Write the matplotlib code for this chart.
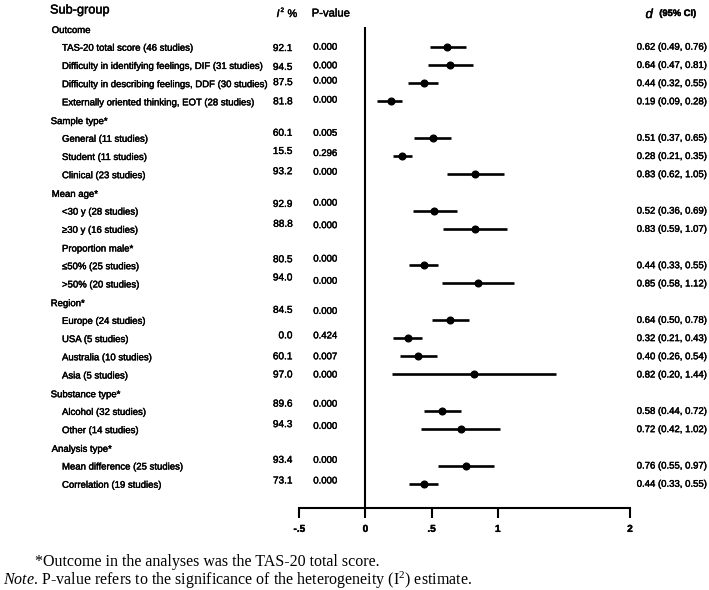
import matplotlib
matplotlib.use("Agg")
import matplotlib.pyplot as plt
from matplotlib import transforms, font_manager
import matplotlib.patheffects as pe

# ---------------- data ----------------
group_names = ["Outcome", "Sample type*", "Mean age*", "Proportion male*",
               "Region*", "Substance type*", "Analysis type*"]
group_sizes = [4, 3, 2, 2, 4, 2, 2]
categories = [
    "TAS-20 total score (46 studies)",
    "Difficulty in identifying feelings, DIF (31 studies)",
    "Difficulty in describing feelings, DDF (30 studies)",
    "Externally oriented thinking, EOT (28 studies)",
    "General (11 studies)",
    "Student (11 studies)",
    "Clinical (23 studies)",
    "<30 y (28 studies)",
    "\u226530 y (16 studies)",
    "\u226450% (25 studies)",
    ">50% (20 studies)",
    "Europe (24 studies)",
    "USA (5 studies)",
    "Australia (10 studies)",
    "Asia (5 studies)",
    "Alcohol (32 studies)",
    "Other (14 studies)",
    "Mean difference (25 studies)",
    "Correlation (19 studies)",
]
d_values = [0.62, 0.64, 0.44, 0.19, 0.51, 0.28, 0.83, 0.52, 0.83, 0.44,
            0.85, 0.64, 0.32, 0.40, 0.82, 0.58, 0.72, 0.76, 0.44]
ci_low = [0.49, 0.47, 0.32, 0.09, 0.37, 0.21, 0.62, 0.36, 0.59, 0.33,
          0.58, 0.50, 0.21, 0.26, 0.20, 0.44, 0.42, 0.55, 0.33]
ci_high = [0.76, 0.81, 0.55, 0.28, 0.65, 0.35, 1.05, 0.69, 1.07, 0.55,
           1.12, 0.78, 0.43, 0.54, 1.44, 0.72, 1.02, 0.97, 0.55]
i2_values = ["92.1", "94.5", "87.5", "81.8", "60.1", "15.5", "93.2", "92.9",
             "88.8", "80.5", "94.0", "84.5", "0.0", "60.1", "97.0", "89.6",
             "94.3", "93.4", "73.1"]
p_values = ["0.000", "0.000", "0.000", "0.000", "0.005", "0.296", "0.000",
            "0.000", "0.000", "0.000", "0.000", "0.000", "0.424", "0.007",
            "0.000", "0.000", "0.000", "0.000", "0.000"]
tick_values = [-0.5, 0, 0.5, 1, 2]
tick_labels = ["-.5", "0", ".5", "1", "2"]
footnote_1 = "*Outcome in the analyses was the TAS-20 total score."
footnote_2 = r"$\mathit{Note}$. P-value refers to the significance of the heterogeneity (I$^{2}$) estimate."

# small vertical misalignments of the statistics columns in the original (pixels)
i2_dy = [1.3, 2, -1, 0, -5, -5, -3, -6.7, -5, -6, -6, -10, -2.7, 0, 0, -7.3, -5, -5.7, -3.3]
p_dy = [0, 0.4, -2.6, -1.7, -5, -3, -2.5, -8, -3.7, -6.7, -2.7, -9, -2.7, 0, 0, -7.3, -3.3, -5.7, -3.3]

# ---------------- fonts ----------------
names = {f.name for f in font_manager.fontManager.ttflist}
if "Liberation Sans Narrow" in names:
    SANS = "Liberation Sans Narrow"
    k = 1.0
else:
    SANS = "Liberation Sans"
    k = 0.82
SERIF = "Liberation Serif"
plt.rcParams["mathtext.fontset"] = "custom"
plt.rcParams["mathtext.rm"] = SERIF
plt.rcParams["mathtext.it"] = SERIF + ":italic"
plt.rcParams["mathtext.bf"] = SERIF + ":bold"

THICK = [pe.withStroke(linewidth=0.3, foreground="black")]

# ---------------- figure ----------------
W, H, DPI = 709, 590, 100
fig = plt.figure(figsize=(W / DPI, H / DPI), dpi=DPI)

# overlay axes in pixel coordinates (for text columns)
tax = fig.add_axes([0, 0, 1, 1])
tax.set_xlim(0, W)
tax.set_ylim(H, 0)
tax.axis("off")

x_left_px, x_right_px = 299.3, 630.0
y_top_px, y_bot_px = 27.0, 508.3
row0_px, row_step = 28.5, 18.21

ax = fig.add_axes([x_left_px / W, 1 - y_bot_px / H,
                   (x_right_px - x_left_px) / W, (y_bot_px - y_top_px) / H])
ax.set_xlim(-0.5, 2)
ax.set_ylim((y_bot_px - row0_px) / row_step, (y_top_px - row0_px) / row_step)
ax.patch.set_alpha(0)

# row indices
header_rows = []
item_rows = []
r = 0
for g, n in zip(group_names, group_sizes):
    header_rows.append(r)
    r += 1
    for _ in range(n):
        item_rows.append(r)
        r += 1

# forest marks
ax.hlines(item_rows, ci_low, ci_high, color="black", lw=1.9)
ax.plot(d_values, item_rows, "o", color="black", ms=4.8)
ax.axvline(0, color="black", lw=1.5)

for s in ["left", "top", "right"]:
    ax.spines[s].set_visible(False)
ax.spines["bottom"].set_linewidth(1.5)
ax.set_yticks([])
ax.set_xticks(tick_values)
ax.set_xticklabels(tick_labels)
ax.tick_params(axis="x", direction="out", length=7.2, width=1.5, pad=4)
for lab in ax.get_xticklabels():
    lab.set_fontfamily(SANS)
    lab.set_fontsize(8.8 * k)
    lab.set_fontweight("bold")
    lab.set_path_effects(THICK)

# text columns: x in pixels, y in row units
bt = transforms.blended_transform_factory(tax.transData, ax.transData)

def off(dy):
    return transforms.offset_copy(bt, fig=fig, x=0, y=-dy, units="dots")

TXT = dict(fontfamily=SANS, va="center", path_effects=THICK)

header_x = [51.7, 50.7, 51.7, 62, 50.7, 50.7, 51.7]
for g, rr, hx in zip(group_names, header_rows, header_x):
    tax.text(hx, rr, g, transform=off(1.5), fontsize=8.4 * k, ha="left", **TXT)

for i, rr in enumerate(item_rows):
    tax.text(62, rr, categories[i], transform=off(1.0), fontsize=8.4 * k,
             ha="left", **TXT)
    tax.text(292.5, rr, i2_values[i], transform=off(i2_dy[i]), fontsize=8.8 * k,
             ha="right", **TXT)
    tax.text(313.3, rr, p_values[i], transform=off(p_dy[i]), fontsize=8.4 * k,
             ha="left", **TXT)
    tax.text(636.7, rr, f"{d_values[i]:.2f} ({ci_low[i]:.2f}, {ci_high[i]:.2f})",
             transform=off(0), fontsize=8.4 * k, ha="left", **TXT)

# column headers
tax.text(50, 10.5, "Sub-group", fontsize=11.2 * k, ha="left", **TXT)
tax.text(276.5, 14, "I", fontsize=9.6 * k, style="italic", ha="left", **TXT)
tax.text(280.5, 10.5, "2", fontsize=5.5 * k, ha="left", **TXT)
tax.text(287.5, 14, "%", fontsize=9.6 * k, ha="left", **TXT)
tax.text(311.7, 13.5, "P-value", fontsize=9.9 * k, ha="left", **TXT)
tax.text(645.5, 15, "d", fontsize=11.5 * k, style="italic", ha="left", **TXT)
tax.text(659.3, 13.5, "(95% CI)", fontsize=8.2 * k, fontweight="bold",
         ha="left", **TXT)

# footnotes (one common size, fitted to the first line's extent)
renderer = fig.canvas.get_renderer()
f1 = tax.text(35, 562.5, footnote_1, fontfamily=SERIF, fontsize=11, va="center", ha="left")
w = f1.get_window_extent(renderer).width
s2 = 11 * 345.0 / w
f1.set_fontsize(s2)
tax.text(3, 580.5, footnote_2, fontfamily=SERIF, fontsize=s2,
         va="center", ha="left")

fig.savefig("out.png", dpi=DPI)
